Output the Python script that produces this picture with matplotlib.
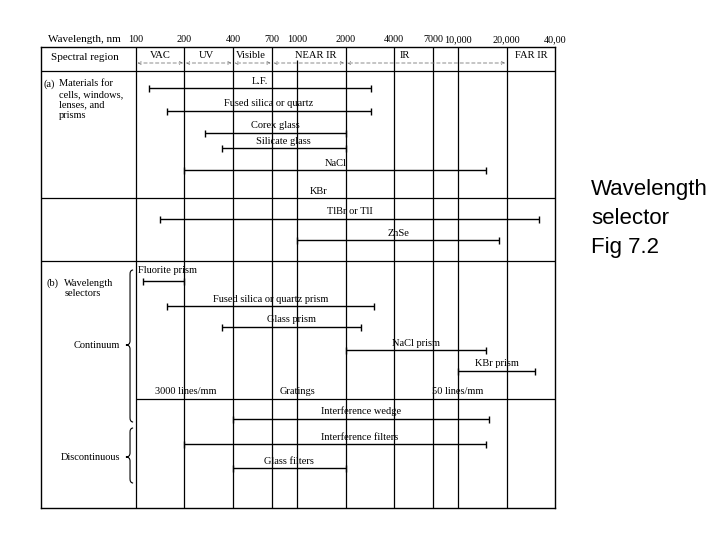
import matplotlib.pyplot as plt
from matplotlib.path import Path
from matplotlib.patches import PathPatch
from matplotlib.transforms import blended_transform_factory
import numpy as np

plt.rcParams['font.family'] = ['Liberation Serif', 'DejaVu Serif']

# 파장 눈금 (nm)
tick_wl = [100, 200, 400, 700, 1000, 2000, 4000, 7000, 10000, 20000, 40000]
tick_labels = ['100', '200', '400', '700', '1000', '2000', '4000', '7000', '10,000', '20,000', '40,00']

# 스펙트럼 영역
regions = ['VAC', 'UV', 'Visible', 'NEAR IR', 'IR', 'FAR IR']
region_lo = [100, 200, 400, 700, 2000, 20000]
region_hi = [200, 400, 700, 2000, 20000, 40000]

# (a) 재료 (nm 범위)
mat_names = ['L.F.', 'Fused silica or quartz', 'Corex glass', 'Silicate glass',
             'NaCl', 'TlBr or TlI', 'ZnSe']
mat_lo = [120, 155, 270, 340, 200, 140, 1000]
mat_hi = [2900, 2900, 2000, 2000, 15000, 32000, 18000]

# (b) 파장 선택기 (nm 범위)
sel_names = ['Fluorite prism', 'Fused silica or quartz prism', 'Glass prism',
             'NaCl prism', 'KBr prism', 'Interference wedge',
             'Interference filters', 'Glass filters']
sel_lo = [110, 155, 340, 2000, 10000, 400, 200, 400]
sel_hi = [200, 3000, 2500, 15000, 30000, 15500, 15000, 2000]

grating_lo, grating_hi = 100, 40000
grating_labels = ['3000 lines/mm', 'Gratings', '50 lines/mm']
grating_label_wl = [205, 1000, 10000]

# 배치 (세로 위치, 픽셀 행 기준)
TOP, HEAD, BOTTOM = 47, 71, 508
mat_y = [88, 111, 133, 148, 170, 219, 240]
sel_y = [281, 306, 327, 350, 371, 419, 444, 468]
kbr_y, sep_b, grating_y = 198, 261, 399
cap = 3.5
fs = 7.5

fig = plt.figure(figsize=(7.2, 5.4), dpi=100)
ax = fig.add_axes([41 / 720, 1 - BOTTOM / 540, 514 / 720, (BOTTOM - TOP) / 540])
ax.set_xscale('log')
lo_lim = 10 ** (2 - 95 / 161)
ax.set_xlim(lo_lim, 40000)
ax.set_ylim(BOTTOM, TOP)
ax.minorticks_off()
ax.set_yticks([])
ax.xaxis.tick_top()
ax.set_xticks(tick_wl, tick_labels, fontsize=7.3)
ax.tick_params(axis='x', length=0, pad=2)
for s in ax.spines.values():
    s.set_linewidth(1.0)

axfrac = blended_transform_factory(ax.transAxes, ax.transData)

# 세로 격자선
for w in tick_wl[:-1]:
    y_top = 60 if w == 1000 else TOP
    ax.vlines(w, y_top, BOTTOM, color='black', lw=0.9)

# 가로 구분선
ax.axhline(HEAD, color='black', lw=0.9)
ax.axhline(kbr_y, color='black', lw=0.9)
ax.axhline(sep_b, color='black', lw=0.9)
ax.hlines(grating_y, grating_lo, grating_hi, color='black', lw=0.9)

# 헤더
ax.text(0.014, 40, 'Wavelength, nm', transform=axfrac, fontsize=8, va='center', ha='left')
ax.text(0.02, 58, 'Spectral region', transform=axfrac, fontsize=8, va='center', ha='left')
region_text_wl = [141, 275, 520, 1300, 4700, 28500]
for name, xw in zip(regions, region_text_wl):
    ax.text(xw, 56, name, fontsize=7.6, ha='center', va='center')
for a, b in zip(region_lo[:5], region_hi[:5]):
    ax.annotate('', xy=(a * 1.02, 63), xytext=(b / 1.02, 63),
                arrowprops=dict(arrowstyle='<->', lw=0.6, color='#777777',
                                linestyle=(0, (4, 3)), shrinkA=0, shrinkB=0,
                                mutation_scale=5))


def range_bar(lo, hi, y, name, label_x=None):
    ax.hlines(y, lo, hi, color='black', lw=1.0)
    ax.vlines([lo, hi], y - cap, y + cap, color='black', lw=1.0)
    if name:
        xm = label_x if label_x else np.sqrt(lo * hi)
        ax.text(xm, y - 2.5, name, fontsize=fs, ha='center', va='bottom')


# (a) 재료
ax.text(0.004, 84, '(a)', transform=axfrac, fontsize=fs, va='center')
left_a = ['Materials for', 'cells, windows,', 'lenses, and', 'prisms']
for i, t in enumerate(left_a):
    ax.text(0.035, 84 + i * 10.5, t, transform=axfrac, fontsize=fs, va='center')
for n, a, b, y in zip(mat_names, mat_lo, mat_hi, mat_y):
    range_bar(a, b, y, n)
ax.text(1370, kbr_y - 2.5, 'KBr', fontsize=fs, ha='center', va='bottom')

# (b) 파장 선택기
ax.text(0.01, 283, '(b)', transform=axfrac, fontsize=fs, va='center')
ax.text(0.045, 283, 'Wavelength', transform=axfrac, fontsize=fs, va='center')
ax.text(0.045, 293, 'selectors', transform=axfrac, fontsize=fs, va='center')
label_override = [None, None, None, None, None, None, 2450, None]
for n, a, b, y, lx in zip(sel_names, sel_lo, sel_hi, sel_y, label_override):
    if n == 'Fluorite prism':
        range_bar(a, b, y, '')
        ax.text(103, y - 6, n, fontsize=fs, ha='left', va='bottom')
    else:
        range_bar(a, b, y, n, lx)
for t, w in zip(grating_labels, grating_label_wl):
    ax.text(w, grating_y - 2.5, t, fontsize=fs, ha='center', va='bottom')


# 중괄호
def brace(y0, y1, ym, x=0.1732, w=0.006, tip=0.008, h=4):
    verts = [(x + w, y0), (x, y0), (x, y0 + h),
             (x, ym - h), (x, ym), (x - tip, ym),
             (x, ym), (x, ym + h),
             (x, y1 - h), (x, y1), (x + w, y1)]
    codes = [Path.MOVETO, Path.CURVE3, Path.CURVE3,
             Path.LINETO, Path.CURVE3, Path.CURVE3,
             Path.CURVE3, Path.CURVE3,
             Path.LINETO, Path.CURVE3, Path.CURVE3]
    ax.add_patch(PathPatch(Path(verts, codes), transform=axfrac, fill=False,
                           lw=0.8, edgecolor='black', clip_on=False))


brace(270, 422, 345)
brace(428, 483, 457)
ax.text(0.154, 345, 'Continuum', transform=axfrac, fontsize=fs, ha='right', va='center')
ax.text(0.154, 457, 'Discontinuous', transform=axfrac, fontsize=fs, ha='right', va='center')

# 오른쪽 제목
for i, t in enumerate(['Wavelength', 'selector', 'Fig 7.2']):
    fig.text(591 / 720, 1 - (195 + i * 29) / 540, t, fontsize=16,
             family=['Liberation Sans', 'DejaVu Sans'], ha='left', va='baseline')

fig.savefig('out.png', dpi=100)
